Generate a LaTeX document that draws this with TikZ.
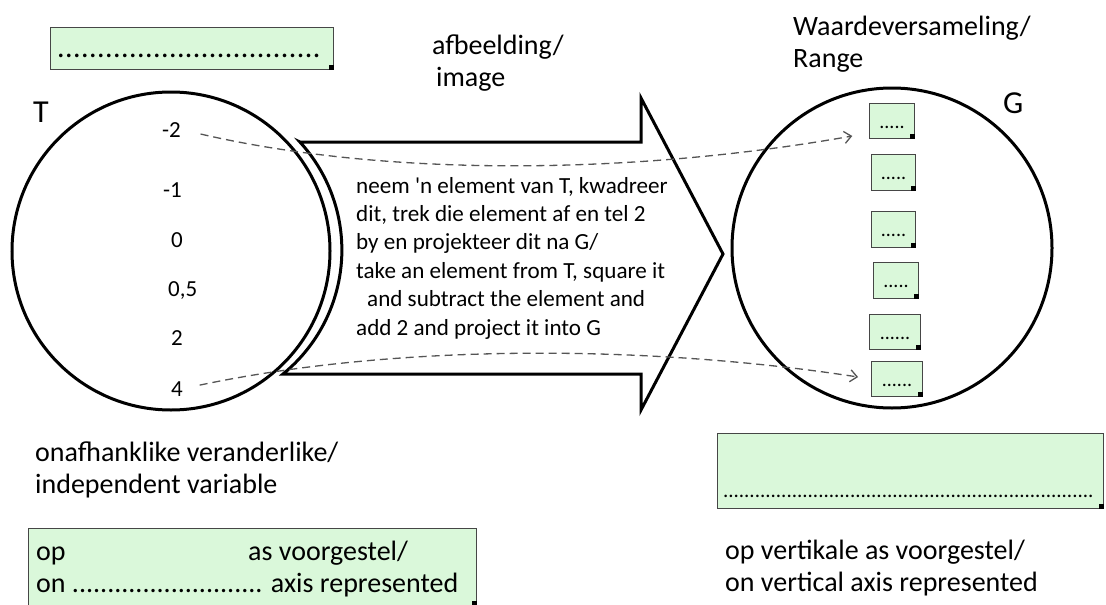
\documentclass[tikz,border=0pt]{standalone}
\usepackage{fontspec}
\setmainfont{Carlito}
\usetikzlibrary{arrows.meta}
\definecolor{boxgreen}{RGB}{218,248,218}
\definecolor{edgegray}{RGB}{70,70,70}
\definecolor{dashgray}{RGB}{85,85,85}
\begin{document}
\begin{tikzpicture}[x=1pt,y=-1pt,
  lbl/.style={anchor=base west, inner sep=0pt, align=left, font=\fontsize{28}{31.5}\selectfont},
  big/.style={anchor=base west, inner sep=0pt, font=\fontsize{32}{36}\selectfont},
  num/.style={anchor=base west, inner sep=0pt, font=\fontsize{23}{26}\selectfont},
  gbox/.style={draw=edgegray, line width=1pt, fill=boxgreen, inner sep=0pt, anchor=north west},
  sbox/.style={gbox, text height=14pt, text depth=0pt, font=\fontsize{20}{22}\selectfont},
  ring/.style={draw=black, line width=3pt},
  maparrow/.style={draw=dashgray, line width=1.3pt, dash pattern=on 8pt off 5pt,
    -{Straight Barb[length=7pt,width=12pt]}}
]
\useasboundingbox[fill=white] (0,0) rectangle (1106,605);

% the two sets
\node[ring, circle, minimum size=318pt, inner sep=0pt] (Tset) at (171,251) {};
\node[ring, circle, minimum size=320pt, inner sep=0pt] (Gset) at (892,248) {};
\node[big] (Tlbl) at (33,122) {T};
\node[big] (Glbl) at (1003,113) {G};

% big arrow
\draw[ring, line join=miter, fill=white] (300,142) -- (641,142) -- (641,98) -- (723,254)
  -- (641,410) -- (641,374) -- (283,374) arc[start angle=50.8, end angle=-42.5, radius=160] -- cycle;
\node[anchor=base west, inner sep=0pt, align=left, font=\fontsize{23.1}{28.4}\selectfont] (rule) at (356,335)
  {neem \textquotesingle n element van T, kwadreer\\
   dit, trek die element af en tel 2\\
   by en projekteer dit na G/\\
   take an element from T, square it\\
   \hspace*{11pt}and subtract the element and\\
   add 2 and project it into G};

% elements of T
\node[num] (n1) at (162,137) {-2};
\node[num] (n2) at (163,197) {-1};
\node[num] (n3) at (171,247) {0};
\node[num] (n4) at (168,296) {0,5};
\node[num] (n5) at (171,345) {2};
\node[num] (n6) at (171,396) {4};

% answer boxes in G
\node[sbox, minimum width=45pt, minimum height=35pt] (g1) at (869,103) {.....};
\node[sbox, minimum width=44pt, minimum height=36pt] (g2) at (871,154) {.....};
\node[sbox, minimum width=44pt, minimum height=36pt] (g3) at (871,211) {.....};
\node[sbox, minimum width=45pt, minimum height=36pt] (g4) at (873,262) {.....};
\node[sbox, minimum width=51pt, minimum height=35pt] (g5) at (869,314) {......};
\node[sbox, minimum width=51pt, minimum height=35pt] (g6) at (871,361) {......};
\foreach \b in {g1,g2,g3,g4,g5,g6} \fill (\b.south east) rectangle ++(-5,-5);

% top answer box
\node[gbox, minimum width=283pt, minimum height=42pt, text height=18pt, text depth=0pt,
  font=\fontsize{30}{32}\selectfont] (topbox) at (50,27) {\makebox[270pt]{\leaders\hbox to 8pt{\hss.\hss}\hfill}};
\fill (topbox.south east) rectangle ++(-5,-5);

% bottom right answer box
\node[gbox, minimum width=386pt, minimum height=75pt, text height=53pt, text depth=0pt,
  font=\fontsize{21}{24}\selectfont] (rangebox) at (717,433) {\makebox[375pt]{\leaders\hbox{.}\hfill}};
\fill (rangebox.south east) rectangle ++(-5,-5);

% bottom left answer box
\node[gbox, minimum width=448pt, minimum height=77pt] (axbox) at (28,528) {};
\fill (axbox.south east) rectangle ++(-5,-5);

% labels (base anchor = baseline of the last line)
\node[lbl] (imglbl) at (432,86) {afbeelding/\\\hspace*{4pt}image};
\node[lbl] (rangelbl) at (793,67) {Waardeversameling/\\Range};
\node[lbl] (indlbl) at (35,493) {onafhanklike veranderlike/\\independent variable};
\node[lbl] (axlbl) at (36,592) {\makebox[212pt][l]{op}as voorgestel/\\on ........................... axis represented};
\node[lbl] (vaxlbl) at (725,591) {op vertikale as voorgestel/\\on vertical axis represented};

% mapping arrows
\draw[maparrow, shorten <=20pt, shorten >=17pt] (n1.east) .. controls (400,180) and (650,172) .. ([yshift=-12pt]g1.west);
\draw[maparrow, shorten <=17pt, shorten >=13pt] (n6.east) .. controls (400,343) and (650,345) .. (g6.west);
\end{tikzpicture}
\end{document}
